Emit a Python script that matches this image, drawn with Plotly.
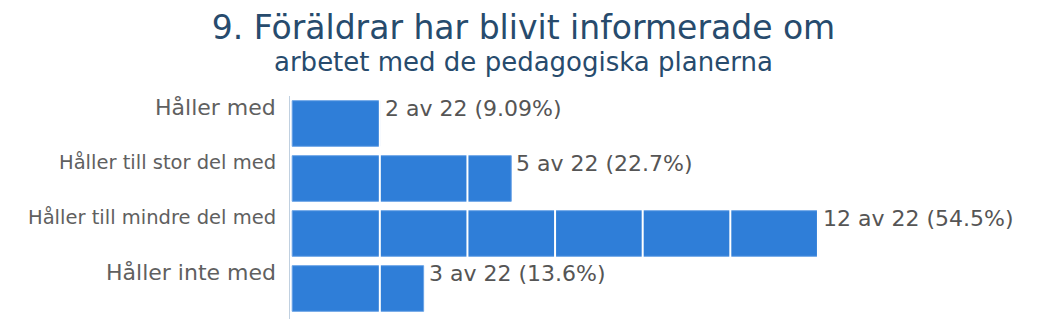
import plotly.graph_objects as go

categories = ["Håller med", "Håller till stor del med", "Håller till mindre del med", "Håller inte med"]
counts = [2, 5, 12, 3]
total = 22
percent_labels = ["9.09%", "22.7%", "54.5%", "13.6%"]
label_sizes = [22, 19.5, 19.5, 22]
grid_ticks = [2, 4, 6, 8, 10, 12, 14, 16]

FONT = "DejaVu Sans"
W, H = 1047, 321
L, R, T, B = 290, 10, 96, 2

fig = go.Figure()
fig.add_trace(go.Bar(
    x=counts, y=categories, orientation="h",
    marker=dict(color="#2f7ed8", line=dict(color="#6aa3e6", width=1)),
    hoverinfo="skip",
))

annotations = []
for c, v, p in zip(categories, counts, percent_labels):
    annotations.append(dict(
        x=v, y=c, xref="x", yref="y", text=f"{v} av {total} ({p})",
        showarrow=False, xanchor="left", yanchor="middle", xshift=3, yshift=15,
        font=dict(family=FONT, size=22, color="#555555"),
    ))
for c, s in zip(categories, label_sizes):
    annotations.append(dict(
        x=0, y=c, xref="paper", yref="y", text=c, showarrow=False,
        xanchor="right", yanchor="middle", xshift=-12, yshift=16,
        font=dict(family=FONT, size=s, color="#606060"),
    ))
annotations.append(dict(
    x=(W / 2 - L) / (W - L - R), y=1, xref="paper", yref="paper", yshift=34,
    text="arbetet med de pedagogiska planerna",
    showarrow=False, xanchor="center", yanchor="middle",
    font=dict(family=FONT, size=26, color="#274b6d"),
))

shapes = [dict(type="line", xref="x", yref="paper", x0=g, x1=g, y0=0, y1=1,
               line=dict(color="white", width=2), layer="above") for g in grid_ticks]

fig.update_layout(
    width=W, height=H,
    margin=dict(l=L, r=R, t=T, b=B),
    paper_bgcolor="white", plot_bgcolor="white",
    title=dict(text="9. Föräldrar har blivit informerade om", x=0.5, xanchor="center",
               xref="container", y=1 - 27 / H, yanchor="middle", yref="container",
               font=dict(family=FONT, size=33, color="#274b6d")),
    showlegend=False,
    bargap=0.17,
    xaxis=dict(range=[-0.05, 17], showgrid=False, zeroline=False, showticklabels=False,
               showline=False, ticks=""),
    yaxis=dict(autorange="reversed", showticklabels=False, showgrid=False, zeroline=False,
               showline=True, linecolor="#c0d0e0", linewidth=1, ticks=""),
    annotations=annotations,
    shapes=shapes,
)

fig.write_html("out.html")
